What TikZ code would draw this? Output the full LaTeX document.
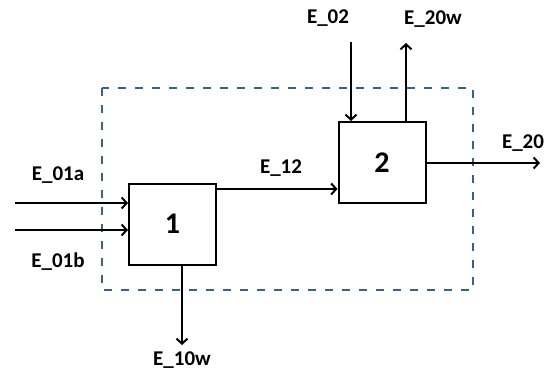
\documentclass[tikz,border=0pt]{standalone}
\usepackage{fontspec}
\setmainfont{Carlito}
\usetikzlibrary{arrows.meta}
\definecolor{dashblue}{RGB}{60,96,142}
\begin{document}
\begin{tikzpicture}[x=1pt,y=-1pt,
  blk/.style={draw=black,line width=2pt,fill=white,minimum width=87pt,minimum height=81pt,inner sep=0pt,font=\fontsize{30}{32}\selectfont\bfseries},
  flow/.style={line width=2pt,-{Straight Barb[length=5pt,width=11pt,line width=2pt]}},
  lbl/.style={font=\fontsize{21}{24}\selectfont\bfseries,inner sep=0pt},
  sys/.style={draw=dashblue,line width=2pt,dash pattern=on 8pt off 9pt}]
\path[use as bounding box] (0,0) rectangle (550,372);
\draw[sys] (102,88) rectangle (473,290);
\node[blk] (b1) at (172.5,224) {1};
\node[blk] (b2) at (382,162.5) {2};
% free ends
\coordinate (in1) at (15,203);
\coordinate (in2) at (15,230);
\coordinate (e02s) at (351,42);
\coordinate (e20wt) at (406,43);
\coordinate (e20t) at (540,163);
\coordinate (e10wt) at (182,345);
\draw[flow] (in1) -- (in1 -| b1.west);
\draw[flow] (in2) -- (in2 -| b1.west);
\coordinate (e12s) at (b1.east |- 0,189);
\draw[flow] (e12s) -- (b2.west |- e12s);
\draw[flow] (e02s) -- (e02s |- b2.north);
\draw[flow] (e20wt |- b2.north) -- (e20wt);
\draw[flow] (b2.east |- e20t) -- (e20t);
\draw[flow] (e10wt |- b1.south) -- (e10wt);
\node[lbl] (l01a) at (58,175) {E\_01a};
\node[lbl] (l01b) at (58,262) {E\_01b};
\node[lbl] (l12) at (281,168) {E\_12};
\node[lbl] (l02) at (328,18) {E\_02};
\node[lbl] (l20w) at (433,19) {E\_20w};
\node[lbl] (l20) at (523,143) {E\_20};
\node[lbl] (l10w) at (182,360) {E\_10w};
\end{tikzpicture}
\end{document}
